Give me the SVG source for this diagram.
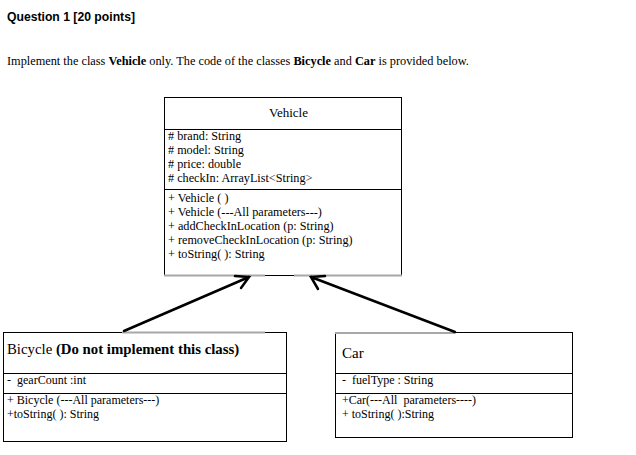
<svg xmlns="http://www.w3.org/2000/svg" width="636" height="455" viewBox="0 0 636 455">
<style>
.t{font-family:"Liberation Serif","Times New Roman",serif;fill:#000}
.s{font-size:12.2px}
.box{fill:#fff;stroke:#000;stroke-width:1}
.div{stroke:#000;stroke-width:1}
.gray{stroke:#a8a8a8;stroke-width:2}
.conn{stroke:#000;stroke-width:2.5;fill:none;stroke-linecap:round}
</style>
<rect width="636" height="455" fill="#fff"/>
<text x="7" y="21" font-family="Liberation Sans,Arial,sans-serif" font-weight="bold" font-size="12.2">Question 1 [20 points]</text>
<text class="t" x="7" y="65" font-size="12.3">Implement the class <tspan font-weight="bold">Vehicle</tspan> only. The code of the classes <tspan font-weight="bold">Bicycle</tspan> and <tspan font-weight="bold">Car</tspan> is provided below.</text>

<g id="vehicle">
<rect class="box" x="164.5" y="97.5" width="237" height="178"/>
<line class="div" x1="164.5" y1="129.5" x2="401.5" y2="129.5"/>
<line class="div" x1="164.5" y1="189.5" x2="401.5" y2="189.5"/>
<line class="gray" x1="164" y1="275.5" x2="265" y2="275.5"/>
<line class="gray" x1="294" y1="275.5" x2="402" y2="275.5"/>
<text class="t" x="288.5" y="117" font-size="13" text-anchor="middle">Vehicle</text>
<text class="t s" x="168" y="140"># brand: String</text>
<text class="t s" x="168" y="154"># model: String</text>
<text class="t s" x="168" y="168"># price: double</text>
<text class="t s" x="168" y="182"># checkIn: ArrayList&lt;String&gt;</text>
<text class="t s" x="168" y="202">+ Vehicle ( )</text>
<text class="t s" x="168" y="216">+ Vehicle (---All parameters---)</text>
<text class="t s" x="168" y="230">+ addCheckInLocation (p: String)</text>
<text class="t s" x="168" y="244">+ removeCheckInLocation (p: String)</text>
<text class="t s" x="168" y="258">+ toString( ): String</text>
</g>

<g id="bicycle">
<rect class="box" x="3.5" y="332.5" width="283" height="109"/>
<line class="div" x1="3.5" y1="373.5" x2="286.5" y2="373.5"/>
<line class="div" x1="3.5" y1="393.5" x2="286.5" y2="393.5"/>
<line class="gray" x1="122" y1="332.5" x2="265" y2="332.5"/>
<text class="t" x="7" y="354" font-size="14.8">Bicycle <tspan font-weight="bold">(Do not implement this class)</tspan></text>
<text class="t" x="7" y="384" font-size="12">-&#160; gearCount :int</text>
<text class="t" x="7" y="404" font-size="12">+ Bicycle (---All parameters---)</text>
<text class="t" x="7" y="418" font-size="12">+toString( ): String</text>
</g>

<g id="car">
<rect class="box" x="335.5" y="332.5" width="237" height="105"/>
<line class="div" x1="335.5" y1="373.5" x2="572.5" y2="373.5"/>
<line class="div" x1="335.5" y1="393.5" x2="572.5" y2="393.5"/>
<line class="gray" x1="335" y1="333" x2="455" y2="333"/>
<text class="t" x="342" y="358" font-size="15">Car</text>
<text class="t" x="342" y="384" font-size="12">-&#160; fuelType : String</text>
<text class="t" x="342" y="404" font-size="12">+Car(---All&#160; parameters----)</text>
<text class="t" x="342" y="418" font-size="12">+ toString( ):String</text>
</g>

<g id="connectors">
<path class="conn" d="M124 331 L249 277 M235 276 L249 277 L241 288"/>
<path class="conn" d="M455 332 L311 277 M325 276 L311 277 L318 289"/>
</g>
</svg>
